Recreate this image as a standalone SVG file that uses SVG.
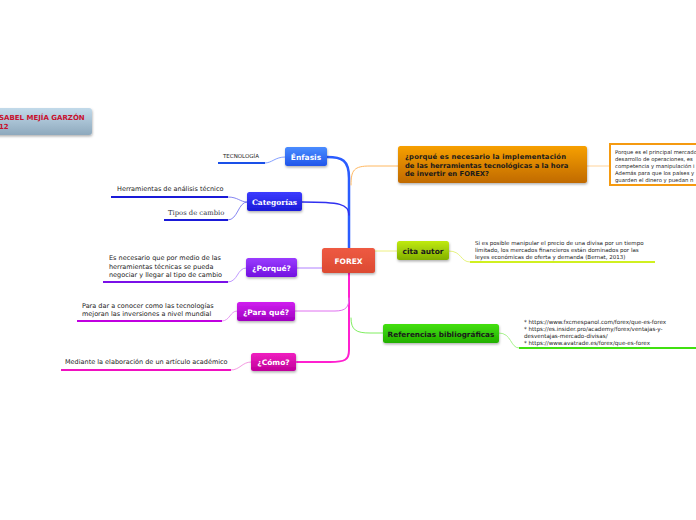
<svg xmlns="http://www.w3.org/2000/svg" width="696" height="520" viewBox="0 0 696 520">
<defs>
<linearGradient id="gTitle" x1="0" y1="0" x2="0" y2="1"><stop offset="0" stop-color="#c2daea"/><stop offset="1" stop-color="#8ea9bd"/></linearGradient>
<linearGradient id="gEnf" x1="0" y1="0" x2="0" y2="1"><stop offset="0" stop-color="#4a8cff"/><stop offset="1" stop-color="#1f55ea"/></linearGradient>
<linearGradient id="gCat" x1="0" y1="0" x2="0" y2="1"><stop offset="0" stop-color="#3c3cff"/><stop offset="1" stop-color="#1a1ad8"/></linearGradient>
<linearGradient id="gPor" x1="0" y1="0" x2="0" y2="1"><stop offset="0" stop-color="#9a3cff"/><stop offset="1" stop-color="#7210e0"/></linearGradient>
<linearGradient id="gPara" x1="0" y1="0" x2="0" y2="1"><stop offset="0" stop-color="#d020f0"/><stop offset="1" stop-color="#a000c0"/></linearGradient>
<linearGradient id="gComo" x1="0" y1="0" x2="0" y2="1"><stop offset="0" stop-color="#f020c0"/><stop offset="1" stop-color="#c0009a"/></linearGradient>
<linearGradient id="gFor" x1="0" y1="0" x2="0" y2="1"><stop offset="0" stop-color="#ee5a42"/><stop offset="1" stop-color="#dc4a32"/></linearGradient>
<linearGradient id="gOr" x1="0" y1="0" x2="0" y2="1"><stop offset="0" stop-color="#f7a000"/><stop offset="1" stop-color="#c06a00"/></linearGradient>
<linearGradient id="gCita" x1="0" y1="0" x2="0" y2="1"><stop offset="0" stop-color="#c0ea10"/><stop offset="1" stop-color="#82b000"/></linearGradient>
<linearGradient id="gRef" x1="0" y1="0" x2="0" y2="1"><stop offset="0" stop-color="#44e010"/><stop offset="1" stop-color="#22b000"/></linearGradient>
<filter id="sh" x="-20%" y="-20%" width="140%" height="160%"><feDropShadow dx="0.5" dy="1.5" stdDeviation="1" flood-color="#000" flood-opacity="0.3"/></filter>
</defs>
<style>
.sans{font-family:"DejaVu Sans","Liberation Sans",sans-serif}
.ser{font-family:"DejaVu Serif","Liberation Serif",serif}
.nl{font-weight:bold;fill:#fff;text-anchor:middle;font-size:7.5px}
.sub{font-size:6.5px;fill:#222}
.c{fill:none;stroke-linecap:round}
</style>

<g id="connectors">
<path class="c" d="M327,157 C342,157 349,160 349,178 L349,248" stroke="#2a5cff" stroke-width="2.5"/>
<path class="c" d="M302,202 C340,202 349,204 349,215" stroke="#3030f0" stroke-width="1.5"/>
<path class="c" d="M297,268 L322,268" stroke="#b080ff" stroke-width="1"/>
<path class="c" d="M349,273 L349,350 C349,360 345,362 330,362 L297,362" stroke="#ff20d0" stroke-width="2"/>
<path class="c" d="M295,311 L335,311 C346,311 349,307 349,298" stroke="#e070f0" stroke-width="1"/>
<path class="c" d="M351,185 C351,170 354,166 370,166 L398,166" stroke="#ffb860" stroke-width="1"/>
<path class="c" d="M375,251 L397,251" stroke="#eef080" stroke-width="1"/>
<path class="c" d="M351,318 C351,330 356,333 370,333 L383,333" stroke="#80ee60" stroke-width="1"/>
<path class="c" d="M265,163 C272,163 275,157 285,157" stroke="#6688ff" stroke-width="0.8"/>
<path class="c" d="M228,197 C238,197 240,202 247,202 M228,220 C238,220 238,202 247,202" stroke="#6666ee" stroke-width="0.8"/>
<path class="c" d="M228,282 C238,282 237,268 246,268" stroke="#b080ff" stroke-width="0.8"/>
<path class="c" d="M222,321 C230,321 230,311 237,311" stroke="#e080f0" stroke-width="0.8"/>
<path class="c" d="M231,370 C240,370 242,362 251,362" stroke="#f080d8" stroke-width="0.8"/>
<path class="c" d="M449,251 C462,251 460,262 470,262" stroke="#e0f060" stroke-width="0.8"/>
<path class="c" d="M499,333 C512,333 510,348 519,348" stroke="#90f070" stroke-width="0.8"/>
<path class="c" d="M587,166 L610,166" stroke="#ffc880" stroke-width="0.8"/>
</g>

<g id="title">
<rect x="-20" y="108" width="112" height="27" rx="3" fill="url(#gTitle)" filter="url(#sh)"/>
<text class="sans" x="-1" y="120" font-size="7" font-weight="bold" fill="#c8102e">SABEL MEJÍA GARZÓN</text>
<text class="sans" x="-1" y="128.5" font-size="7" font-weight="bold" fill="#c8102e">12</text>
</g>

<g id="forex">
<rect x="322" y="248" width="53" height="25" rx="2.5" fill="url(#gFor)" filter="url(#sh)"/>
<text class="sans nl" x="348.5" y="264" font-size="8.5">FOREX</text>
</g>

<g id="enfasis">
<rect x="285" y="147" width="42" height="19" rx="2.5" fill="url(#gEnf)" filter="url(#sh)"/>
<text class="sans nl" x="306" y="159.5">Énfasis</text>
</g>
<g id="tecnologia">
<text class="sans" x="223" y="158" font-size="5.5" fill="#222">TECNOLOGÍA</text>
<line x1="218" y1="163" x2="265" y2="163" stroke="#1a50e8" stroke-width="2"/>
</g>

<g id="categorias">
<rect x="247" y="192" width="55" height="19" rx="2.5" fill="url(#gCat)" filter="url(#sh)"/>
<text class="ser nl" x="274.5" y="204.5" font-size="8">Categorías</text>
</g>
<g id="herramientas">
<text class="sans sub" x="117" y="191">Herramientas de análisis técnico</text>
<line x1="111" y1="197" x2="228" y2="197" stroke="#1a1ad8" stroke-width="2.2"/>
</g>
<g id="tipos">
<text class="ser" x="168" y="215" font-size="6.8" fill="#334">Tipos de cambio</text>
<line x1="164" y1="220" x2="228" y2="220" stroke="#1a1ad8" stroke-width="2.2"/>
</g>

<g id="porque">
<rect x="246" y="258" width="51" height="19" rx="2.5" fill="url(#gPor)" filter="url(#sh)"/>
<text class="sans nl" x="271.5" y="270.5">¿Porqué?</text>
</g>
<g id="porque-txt">
<text class="sans sub" x="109" y="260">Es necesario que por medio de las</text>
<text class="sans sub" x="109" y="268.5">herramientas técnicas se pueda</text>
<text class="sans sub" x="109" y="277">negociar y llegar al tipo de cambio</text>
<line x1="103" y1="282" x2="228" y2="282" stroke="#7a10e8" stroke-width="2.2"/>
</g>

<g id="paraque">
<rect x="237" y="302" width="58" height="19" rx="2.5" fill="url(#gPara)" filter="url(#sh)"/>
<text class="sans nl" x="266" y="314.5">¿Para qué?</text>
</g>
<g id="paraque-txt">
<text class="sans sub" x="82" y="307.5">Para dar a conocer como las tecnologías</text>
<text class="sans sub" x="82" y="316">mejoran las inversiones a nivel mundial</text>
<line x1="77" y1="321" x2="222" y2="321" stroke="#c000e0" stroke-width="2.2"/>
</g>

<g id="como">
<rect x="251" y="353" width="45" height="18" rx="2.5" fill="url(#gComo)" filter="url(#sh)"/>
<text class="sans nl" x="273.5" y="365">¿Cómo?</text>
</g>
<g id="como-txt">
<text class="sans sub" x="65" y="363.5">Mediante la elaboración de un artículo académico</text>
<line x1="61" y1="370" x2="231" y2="370" stroke="#f010c0" stroke-width="2.2"/>
</g>

<g id="pregunta">
<rect x="398" y="146" width="189" height="37" rx="2.5" fill="url(#gOr)" filter="url(#sh)"/>
<text class="sans" x="405" y="159" font-size="6.8" font-weight="bold" fill="#1a1a1a" textLength="161">¿porqué es necesario la implementación</text>
<text class="sans" x="405" y="167.5" font-size="6.8" font-weight="bold" fill="#1a1a1a">de las herramientas tecnológicas a la hora</text>
<text class="sans" x="405" y="176" font-size="6.8" font-weight="bold" fill="#1a1a1a">de invertir en FOREX?</text>
</g>
<g id="porque-box">
<rect x="610" y="144" width="100" height="41" fill="#fff" stroke="#f59a10" stroke-width="2"/>
<text class="sans" x="615" y="154" font-size="5.3" fill="#222">Porque es el principal mercado</text>
<text class="sans" x="615" y="161" font-size="5.3" fill="#222">desarrollo de operaciones, es</text>
<text class="sans" x="615" y="168" font-size="5.3" fill="#222">competencia y manipulación i</text>
<text class="sans" x="615" y="175" font-size="5.3" fill="#222">Además para que los países y</text>
<text class="sans" x="615" y="182" font-size="5.3" fill="#222">guarden el dinero y puedan n</text>
</g>

<g id="cita">
<rect x="397" y="241" width="52" height="19" rx="2.5" fill="url(#gCita)" filter="url(#sh)"/>
<text class="sans" x="423" y="253.5" font-size="7.5" font-weight="bold" fill="#1a1a1a" text-anchor="middle">cita autor</text>
</g>
<g id="cita-txt">
<text class="sans" x="475" y="245" font-size="5.5" fill="#222">Si es posible manipular el precio de una divisa por un tiempo</text>
<text class="sans" x="475" y="252" font-size="5.5" fill="#222">limitado, los mercados financieros están dominados por las</text>
<text class="sans" x="475" y="259" font-size="5.5" fill="#222">leyes económicas de oferta y demanda (Bernat, 2013)</text>
<line x1="470" y1="262" x2="655" y2="262" stroke="#d0f020" stroke-width="2.2"/>
</g>

<g id="referencias">
<rect x="383" y="324" width="116" height="19" rx="2.5" fill="url(#gRef)" filter="url(#sh)"/>
<text class="sans" x="441" y="336.5" font-size="7.3" font-weight="bold" fill="#1a1a1a" text-anchor="middle">Referencias bibliográficas</text>
</g>
<g id="ref-txt">
<text class="sans" x="524" y="324" font-size="5.6" fill="#222">* https://www.fxcmespanol.com/forex/que-es-forex</text>
<text class="sans" x="524" y="331" font-size="5.6" fill="#222">* https://es.insider.pro/academy/forex/ventajas-y-</text>
<text class="sans" x="524" y="338" font-size="5.6" fill="#222">desventajas-mercado-divisas/</text>
<text class="sans" x="524" y="345" font-size="5.6" fill="#222">* https://www.avatrade.es/forex/que-es-forex</text>
<line x1="519" y1="348" x2="700" y2="348" stroke="#40e010" stroke-width="2.2"/>
</g>
</svg>
